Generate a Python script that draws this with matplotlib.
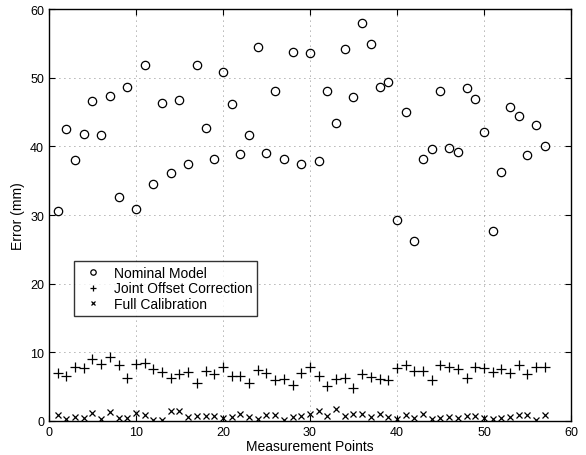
import numpy as np
import matplotlib.pyplot as plt

plt.rcParams['font.family'] = ['Liberation Sans', 'DejaVu Sans']

points = np.arange(1, 58)

nominal = [30.6, 42.5, 38.0, 41.8, 46.6, 41.6, 47.4, 32.6, 48.7, 30.9,
           51.8, 34.5, 46.3, 36.1, 46.8, 37.5, 51.8, 42.7, 38.1, 50.9,
           46.1, 38.9, 41.6, 54.4, 39.1, 48.0, 38.1, 53.7, 37.4, 53.6,
           37.8, 48.1, 43.4, 54.2, 47.2, 57.9, 54.9, 48.7, 49.3, 29.3,
           45.0, 26.2, 38.2, 39.6, 48.0, 39.7, 39.2, 48.5, 46.9, 42.1,
           27.7, 36.3, 45.7, 44.4, 38.8, 43.1, 40.0]

joint_offset = [7.0, 6.6, 7.8, 7.7, 9.0, 8.25, 9.3, 8.2, 6.3, 8.3,
                8.5, 7.6, 7.2, 6.3, 6.9, 7.2, 5.6, 7.3, 6.9, 7.8,
                6.6, 6.6, 5.6, 7.4, 7.0, 6.0, 6.1, 5.3, 7.0, 7.8,
                6.6, 5.1, 6.1, 6.2, 4.8, 6.9, 6.4, 6.1, 6.0, 7.7,
                8.2, 7.3, 7.3, 6.0, 8.1, 7.9, 7.6, 6.3, 7.8, 7.7,
                7.2, 7.6, 7.0, 8.1, 6.8, 7.8, 7.8]

full_calib = [0.9, 0.3, 0.6, 0.5, 1.1, 0.3, 1.35, 0.5, 0.5, 1.2,
              0.8, 0.2, 0.2, 1.4, 1.4, 0.6, 0.7, 0.7, 0.7, 0.4,
              0.6, 1.0, 0.6, 0.3, 0.9, 0.8, 0.2, 0.6, 0.7, 1.0,
              1.5, 0.7, 1.8, 0.7, 1.0, 1.0, 0.6, 1.0, 0.6, 0.35,
              0.9, 0.5, 1.0, 0.3, 0.5, 0.6, 0.4, 0.7, 0.7, 0.5,
              0.3, 0.5, 0.6, 0.8, 0.9, 0.2, 0.8]

fig = plt.figure(figsize=(5.86, 4.56), dpi=100)
ax = fig.add_axes([0.0836, 0.0746, 0.8908, 0.9034])

ax.plot(points, nominal, 'o', mfc='none', mec='black', ms=6, mew=0.9,
        label='Nominal Model')
ax.plot(points, joint_offset, '+', color='black', ms=7, mew=0.9,
        label='Joint Offset Correction')
ax.plot(points, full_calib, 'x', color='black', ms=4.5, mew=0.9,
        label='Full Calibration')

ax.set_xlim(0, 60)
ax.set_ylim(0, 60)
ax.set_xticks([0, 10, 20, 30, 40, 50, 60])
ax.set_yticks([0, 10, 20, 30, 40, 50, 60])
ax.grid(True, linestyle=(0, (1, 5)), color='#666666', linewidth=0.6)
ax.tick_params(direction='in', top=True, right=True, labelsize=9, length=4)
for s in ax.spines.values():
    s.set_linewidth(1.0)

ax.set_xlabel('Measurement Points', fontsize=10, labelpad=1)
ax.set_ylabel('Error (mm)', fontsize=10, labelpad=4)

leg = ax.legend(loc='upper left', bbox_to_anchor=(0.048, 0.388), fontsize=10,
                frameon=True, fancybox=False, edgecolor='black',
                borderpad=0.35, labelspacing=0.1, handletextpad=0.5,
                handlelength=2.0, borderaxespad=0, markerscale=0.65)
leg.get_frame().set_linewidth(1.0)

fig.savefig('out.png', dpi=100)
